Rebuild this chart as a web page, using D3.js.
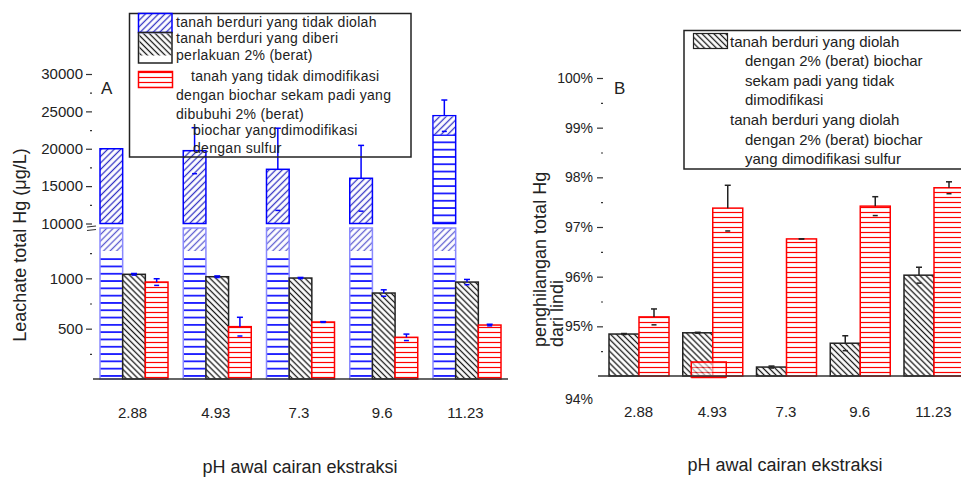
<!DOCTYPE html>
<html>
<head>
<meta charset="utf-8">
<script src="https://cdn.jsdelivr.net/npm/d3@7"></script>
<style>
body { margin: 0; background: #fff; }
text { font-family: "Liberation Sans", Arial, sans-serif; fill: #222; }
</style>
</head>
<body>
<svg id="chart"></svg>
<script>
var W = 961, H = 479;

var phLabels = ['2.88', '4.93', '7.3', '9.6', '11.23'];

// panel A: leachate total Hg (ug/L), broken axis
var untreated = [20000, 19740, 17250, 16050, 24420];
var untreatedErr = [0, 3075, 5500, 4400, 2100];
var biocharA = [1040, 1016, 1003, 854, 963];
var biocharAErr = [8, 8, 6, 32, 26];
var sulfurA = [963, 520, 566, 414, 536];
var sulfurAErr = [33, 93, 4, 32, 8];
var ticksAUpper = [10000, 15000, 20000, 25000, 30000];
var minorAUpper = [12500, 17500, 22500, 27500];
var ticksALower = [500, 1000];
var minorALower = [250, 750, 1250];

// panel B: removal of total Hg from leachate (%)
var biocharB = [94.845, 94.87, 94.18, 94.66, 96.03];
var biocharBErr = [0.01, 0.01, 0.02, 0.15, 0.16];
var sulfurB = [95.19, 97.38, 96.76, 97.42, 97.79];
var sulfurBErr = [0.16, 0.46, 0, 0.19, 0.12];
var ticksB = [95, 96, 97, 98, 99, 100];
var minorB = [94.5, 95.5, 96.5, 97.5, 98.5, 99.5];

var legendA = ['tanah berduri yang tidak diolah', 'tanah berduri yang diberi',
    'perlakuan 2% (berat)', 'tanah yang tidak dimodifikasi',
    'dengan biochar sekam padi yang', 'dibubuhi 2% (berat)',
    'biochar yang dimodifikasi', 'dengan sulfur'];
var legendB = ['tanah berduri yang diolah', 'dengan 2% (berat) biochar',
    'sekam padi yang tidak', 'dimodifikasi', 'tanah berduri yang diolah',
    'dengan 2% (berat) biochar', 'yang dimodifikasi sulfur'];

var blue = '#0000ff', red = '#ff0000', dark = '#222';

var svg = d3.select('#chart').attr('width', W).attr('height', H);
svg.append('rect').attr('width', W).attr('height', H).attr('fill', '#fff');

var defs = svg.append('defs');
function linePattern(id, size, angle, color, sw) {
    var p = defs.append('pattern')
        .attr('id', id)
        .attr('patternUnits', 'userSpaceOnUse')
        .attr('width', size).attr('height', size)
        .attr('patternTransform', 'rotate(' + angle + ')');
    p.append('rect').attr('width', size).attr('height', size).attr('fill', '#fff');
    p.append('line')
        .attr('x1', 0).attr('x2', size)
        .attr('y1', size / 2).attr('y2', size / 2)
        .attr('stroke', color).attr('stroke-width', sw);
}
linePattern('blueDiag', 4.6, -45, '#3434c4', 1.3);
linePattern('blueHor', 7.3, 0, blue, 1.6);
linePattern('blackDiag', 4.2, 45, '#1a1a1a', 1.3);
linePattern('redHor', 5, 0, red, 1.2);

// error bar: whisker up to cap, short tick at the lower end
function errBar(g, cx, yv, yHi, yLo, color) {
    g.append('line').attr('x1', cx).attr('x2', cx).attr('y1', yv).attr('y2', yHi)
        .attr('stroke', color).attr('stroke-width', 1.5);
    g.append('line').attr('x1', cx - 3).attr('x2', cx + 3).attr('y1', yHi).attr('y2', yHi)
        .attr('stroke', color).attr('stroke-width', 1.5);
    g.append('line').attr('x1', cx - 2.5).attr('x2', cx + 2.5).attr('y1', yLo).attr('y2', yLo)
        .attr('stroke', color).attr('stroke-width', 1.5);
}

// ---------------- panel A ----------------
var yUp = d3.scaleLinear().domain([10000, 30000]).range([223.5, 74]);
var yLow = d3.scaleLinear().domain([0, 1500]).range([379, 228]);
var xA = d3.scalePoint().domain(phLabels).range([134, 467]);
var subA = d3.scaleBand().domain(['u', 'b', 's']).range([-34, 34]);
var bwA = subA.bandwidth();

var panelA = svg.append('g');

// untreated soil, lower segment (runs off the top of the 0-1500 range)
var lowBlue = panelA.selectAll('.lowBlue').data(phLabels).enter().append('g');
lowBlue.append('rect')
    .attr('x', function(d) { return xA(d) + subA('u'); })
    .attr('y', yLow(1500) + 28)
    .attr('width', bwA)
    .attr('height', yLow(0) - yLow(1500) - 28)
    .attr('fill', 'url(#blueHor)');
lowBlue.append('rect')
    .attr('x', function(d) { return xA(d) + subA('u'); })
    .attr('y', yLow(1500))
    .attr('width', bwA)
    .attr('height', 23)
    .attr('fill', 'url(#blueDiag)')
    .attr('opacity', 0.8);
lowBlue.append('rect')
    .attr('x', function(d) { return xA(d) + subA('u'); })
    .attr('y', yLow(1500))
    .attr('width', bwA)
    .attr('height', yLow(0) - yLow(1500))
    .attr('fill', 'none')
    .attr('stroke', '#8a8aff').attr('stroke-width', 1.5);

// untreated soil, upper segment
var upperHatch = ['diag', 'diag', 'diag', 'diag', 'mixed'];
var upBlue = panelA.selectAll('.upBlue').data(untreated).enter().append('g');
upBlue.append('rect')
    .attr('x', function(d, i) { return xA(phLabels[i]) + subA('u'); })
    .attr('y', function(d) { return yUp(d); })
    .attr('width', bwA)
    .attr('height', function(d) { return yUp(10000) - yUp(d); })
    .attr('fill', function(d, i) { return upperHatch[i] == 'diag' ? 'url(#blueDiag)' : 'url(#blueHor)'; })
    .attr('stroke', blue).attr('stroke-width', 1.5);
upBlue.filter(function(d, i) { return upperHatch[i] == 'mixed'; })
    .append('rect')
    .attr('x', function(d) { return xA(phLabels[untreated.indexOf(d)]) + subA('u') + 0.75; })
    .attr('y', function(d) { return yUp(d) + 0.75; })
    .attr('width', bwA - 1.5)
    .attr('height', 18)
    .attr('fill', 'url(#blueDiag)');

// biochar-treated soil
panelA.selectAll('.barB').data(biocharA).enter().append('rect')
    .attr('x', function(d, i) { return xA(phLabels[i]) + subA('b'); })
    .attr('y', function(d) { return yLow(d); })
    .attr('width', bwA)
    .attr('height', function(d) { return yLow(0) - yLow(d); })
    .attr('fill', 'url(#blackDiag)')
    .attr('stroke', dark).attr('stroke-width', 1.5);

// sulfur-modified biochar
panelA.selectAll('.barS').data(sulfurA).enter().append('rect')
    .attr('x', function(d, i) { return xA(phLabels[i]) + subA('s'); })
    .attr('y', function(d) { return yLow(d); })
    .attr('width', bwA)
    .attr('height', function(d) { return yLow(0) - yLow(d); })
    .attr('fill', 'url(#redHor)')
    .attr('stroke', red).attr('stroke-width', 1.5);

// error bars (all blue in panel A)
var errA = panelA.append('g');
untreated.forEach(function(v, i) {
    var cx = xA(phLabels[i]) + subA('u') + bwA / 2;
    if (untreatedErr[i] > 0)
        errBar(errA, cx, yUp(v), yUp(v + untreatedErr[i]), yUp(v - untreatedErr[i]), blue);
});
biocharA.forEach(function(v, i) {
    var cx = xA(phLabels[i]) + subA('b') + bwA / 2;
    errBar(errA, cx, yLow(v), yLow(v + biocharAErr[i]), yLow(v - biocharAErr[i]), blue);
});
sulfurA.forEach(function(v, i) {
    var cx = xA(phLabels[i]) + subA('s') + bwA / 2;
    errBar(errA, cx, yLow(v), yLow(v + sulfurAErr[i]), yLow(v - sulfurAErr[i]), blue);
});

// baseline
panelA.append('line')
    .attr('x1', 93).attr('x2', 508)
    .attr('y1', yLow(0)).attr('y2', yLow(0))
    .attr('stroke', '#333').attr('stroke-width', 1.5);

// y axes A
function styleAxis(g, size) {
    g.select('.domain').remove();
    g.selectAll('.tick line').attr('stroke', '#333').attr('stroke-width', 1.2);
    g.selectAll('.tick text').style('font-size', size + 'px').attr('fill', '#222');
}
var fmtInt = d3.format('d');
panelA.append('g').attr('transform', 'translate(92,0)')
    .call(d3.axisLeft(yUp).tickValues(ticksAUpper).tickSize(6).tickPadding(3).tickFormat(fmtInt))
    .call(styleAxis, 15);
panelA.append('g').attr('transform', 'translate(92,0)')
    .call(d3.axisLeft(yUp).tickValues(minorAUpper).tickSize(2).tickFormat(''))
    .call(styleAxis, 15);
panelA.append('g').attr('transform', 'translate(92,0)')
    .call(d3.axisLeft(yLow).tickValues(ticksALower).tickSize(6).tickPadding(3).tickFormat(fmtInt))
    .call(styleAxis, 15);
panelA.append('g').attr('transform', 'translate(92,0)')
    .call(d3.axisLeft(yLow).tickValues(minorALower).tickSize(2).tickFormat(''))
    .call(styleAxis, 15);

// axis break mark
[3, 6.5].forEach(function(off) {
    panelA.append('line')
        .attr('x1', 87).attr('x2', 96)
        .attr('y1', yUp(10000) + off + 0.5).attr('y2', yUp(10000) + off - 0.5)
        .attr('stroke', '#333').attr('stroke-width', 1.2);
});

// x labels A
panelA.append('g').attr('transform', 'translate(-2,407)')
    .call(d3.axisBottom(xA).tickSize(0).tickPadding(0))
    .call(styleAxis, 15);

panelA.append('text').attr('x', 300).attr('y', 467)
    .attr('text-anchor', 'middle').attr('dominant-baseline', 'central')
    .style('font-size', '18px').text('pH awal cairan ekstraksi');
panelA.append('text')
    .attr('transform', 'translate(20,' + 245 + ') rotate(-90)')
    .attr('text-anchor', 'middle').attr('dominant-baseline', 'central')
    .style('font-size', '18px').text('Leachate total Hg (\u03bcg/L)');
panelA.append('text').attr('x', 101).attr('y', 94)
    .style('font-size', '17px').text('A');

// legend A
var legA = panelA.append('g');
legA.append('rect').attr('x', 129.5).attr('y', 13.5).attr('width', 281.5).attr('height', 143.5)
    .attr('fill', 'none').attr('stroke', dark).attr('stroke-width', 1.5);
legA.append('rect').attr('x', 138.5).attr('y', 13.5).attr('width', 33.5).attr('height', 19)
    .attr('fill', 'url(#blueDiag)').attr('stroke', blue).attr('stroke-width', 1.5);
legA.append('rect').attr('x', 139.5).attr('y', 33.5).attr('width', 32).attr('height', 22)
    .attr('fill', 'url(#blackDiag)');
legA.append('rect').attr('x', 138.5).attr('y', 32.5).attr('width', 33.5).attr('height', 30.5)
    .attr('fill', 'none').attr('stroke', dark).attr('stroke-width', 1.5);
legA.append('rect').attr('x', 138.5).attr('y', 71.5).attr('width', 34).attr('height', 16)
    .attr('fill', 'url(#redHor)').attr('stroke', red).attr('stroke-width', 1.5);
var legAx = [176, 176, 176, 191, 176, 176, 193, 193];
var legAy = [22, 38, 55, 76, 95, 114, 130, 148];
legA.selectAll('text').data(legendA).enter().append('text')
    .attr('x', function(d, i) { return legAx[i]; })
    .attr('y', function(d, i) { return legAy[i]; })
    .attr('dominant-baseline', 'central')
    .style('font-size', '14px')
    .style('letter-spacing', '0.3px')
    .text(function(d) { return d; });

// ---------------- panel B ----------------
var yB = d3.scaleLinear().domain([94, 100]).range([376, 78]);
var xB = d3.scalePoint().domain(phLabels).range([639, 934]);
var subB = d3.scaleBand().domain(['b', 's']).range([-30, 30]);
var bwB = subB.bandwidth();

var panelB = svg.append('g');

panelB.selectAll('.barB').data(biocharB).enter().append('rect')
    .attr('x', function(d, i) { return xB(phLabels[i]) + subB('b'); })
    .attr('y', function(d) { return yB(d); })
    .attr('width', bwB)
    .attr('height', function(d) { return yB(94) - yB(d); })
    .attr('fill', 'url(#blackDiag)')
    .attr('stroke', dark).attr('stroke-width', 1.5);

panelB.selectAll('.barS').data(sulfurB).enter().append('rect')
    .attr('x', function(d, i) { return xB(phLabels[i]) + subB('s'); })
    .attr('y', function(d) { return yB(d); })
    .attr('width', bwB)
    .attr('height', function(d) { return yB(94) - yB(d); })
    .attr('fill', 'url(#redHor)')
    .attr('stroke', red).attr('stroke-width', 1.5);

var errB = panelB.append('g');
biocharB.forEach(function(v, i) {
    var cx = xB(phLabels[i]) + subB('b') + bwB / 2;
    errBar(errB, cx, yB(v), yB(v + biocharBErr[i]), yB(v - biocharBErr[i]), dark);
});
sulfurB.forEach(function(v, i) {
    var cx = xB(phLabels[i]) + subB('s') + bwB / 2;
    errBar(errB, cx, yB(v), yB(v + sulfurBErr[i]), yB(v - sulfurBErr[i]), dark);
});

// stray red swatch sitting on the baseline at 4.93
panelB.append('rect')
    .attr('x', xB('4.93') - 21.5).attr('y', yB(94) - 14)
    .attr('width', 35).attr('height', 15)
    .attr('fill', 'url(#redHor)').attr('fill-opacity', 0.6)
    .attr('stroke', red).attr('stroke-width', 1.5);
panelB.append('line')
    .attr('x1', xB('4.93') - 21.5).attr('x2', xB('4.93') + 13.5)
    .attr('y1', yB(94) + 1).attr('y2', yB(94) + 1)
    .attr('stroke', red).attr('stroke-width', 2.5);

panelB.append('line')
    .attr('x1', 598).attr('x2', W)
    .attr('y1', yB(94)).attr('y2', yB(94))
    .attr('stroke', '#333').attr('stroke-width', 1.5);

var fmtPct = function(d) { return d + '%'; };
panelB.append('g').attr('transform', 'translate(603,0)')
    .call(d3.axisLeft(yB).tickValues(ticksB).tickSize(6).tickPadding(4).tickFormat(fmtPct))
    .call(styleAxis, 14);
panelB.append('g').attr('transform', 'translate(603,0)')
    .call(d3.axisLeft(yB).tickValues(minorB).tickSize(2).tickFormat(''))
    .call(styleAxis, 14);
panelB.append('text').attr('x', 593).attr('y', yB(94) + 23)
    .attr('text-anchor', 'end').attr('dominant-baseline', 'central')
    .style('font-size', '14px').text(fmtPct(94));

panelB.append('g').attr('transform', 'translate(-1,406)')
    .call(d3.axisBottom(xB).tickSize(0).tickPadding(0))
    .call(styleAxis, 15);

panelB.append('text').attr('x', 785).attr('y', 465)
    .attr('text-anchor', 'middle').attr('dominant-baseline', 'central')
    .style('font-size', '18px').text('pH awal cairan ekstraksi');
var yTitleB = panelB.append('text')
    .attr('transform', 'translate(546,347) rotate(-90)')
    .style('font-size', '18px');
yTitleB.append('tspan').attr('x', 0).attr('y', 0).text('penghilangan total Hg');
yTitleB.append('tspan').attr('x', 0).attr('y', 17).text('dari lindi');
panelB.append('text').attr('x', 614).attr('y', 94)
    .style('font-size', '17px').text('B');

// legend B
var legB = panelB.append('g');
legB.append('rect').attr('x', 684).attr('y', 30.5).attr('width', 300).attr('height', 138.5)
    .attr('fill', 'none').attr('stroke', dark).attr('stroke-width', 1.5);
legB.append('rect').attr('x', 693.5).attr('y', 33.5).attr('width', 34).attr('height', 15)
    .attr('fill', 'url(#blackDiag)').attr('stroke', dark).attr('stroke-width', 1.2);
legB.selectAll('text').data(legendB).enter().append('text')
    .attr('x', function(d, i) { return (i == 0 || i == 4) ? 730 : 745; })
    .attr('y', function(d, i) { return 41 + i * 19.6; })
    .attr('dominant-baseline', 'central')
    .style('font-size', '15px')
    .text(function(d) { return d; });
</script>
</body>
</html>
